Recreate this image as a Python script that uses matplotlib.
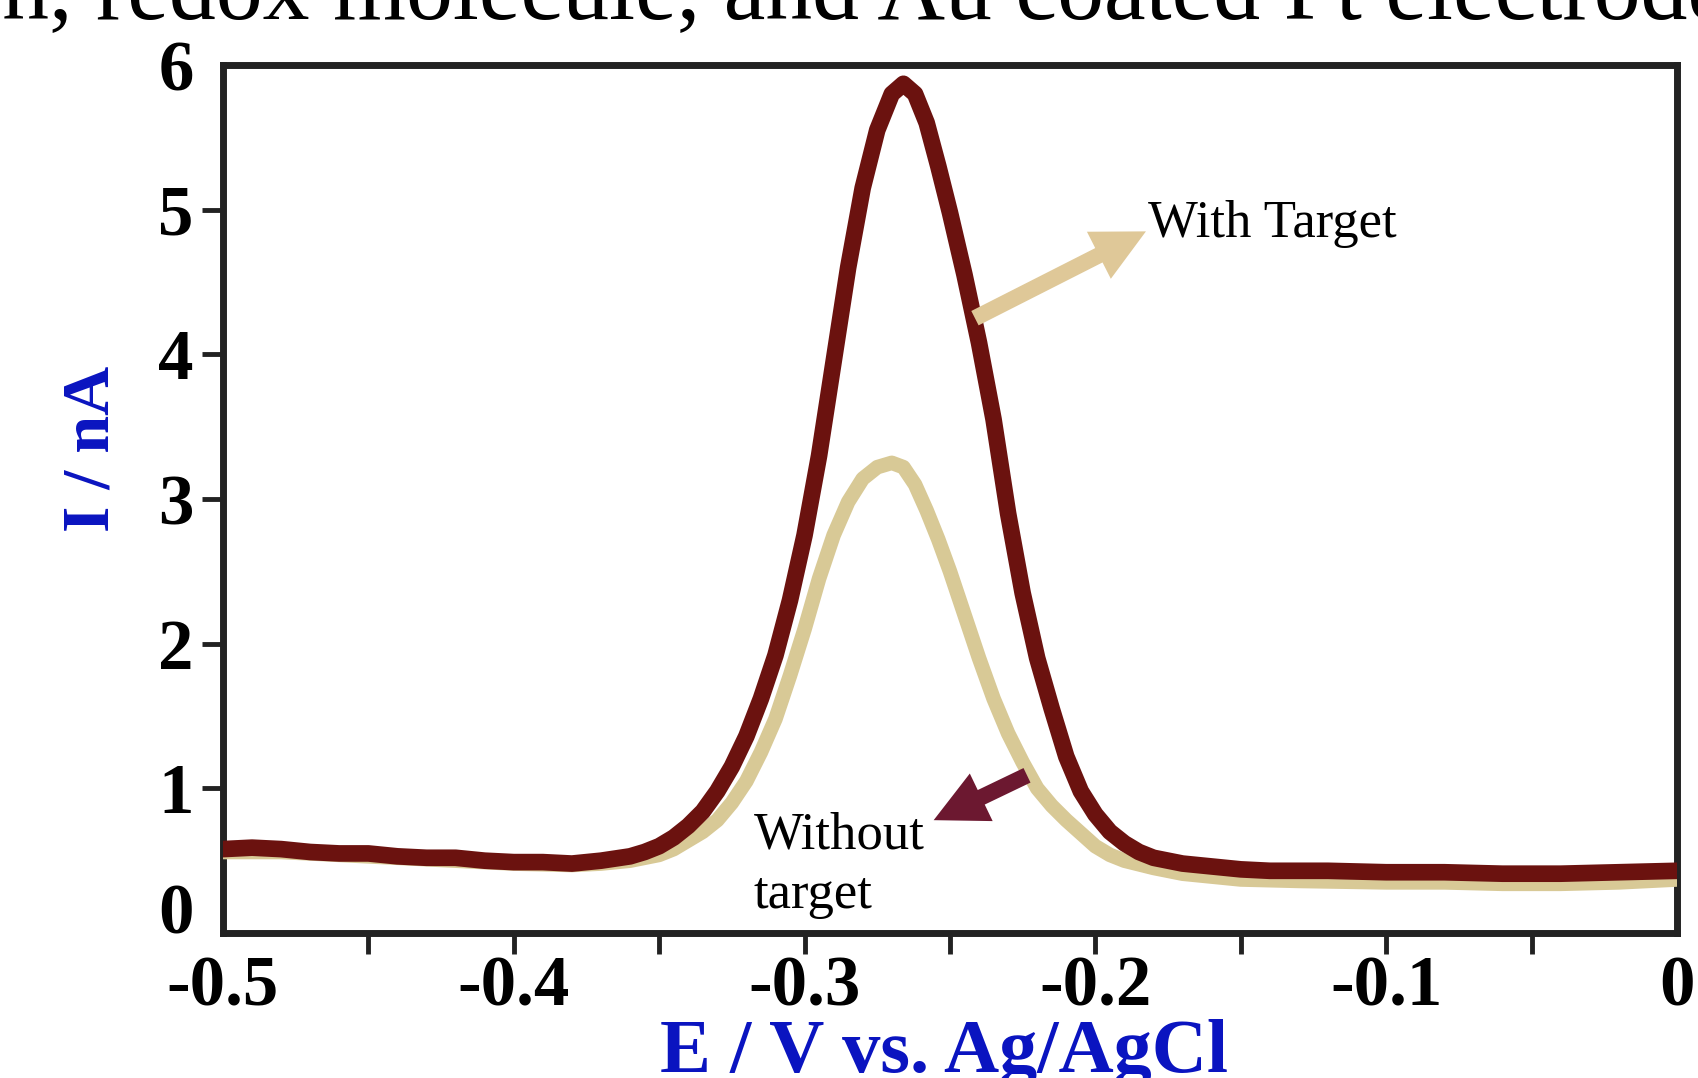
import matplotlib
matplotlib.use("Agg")
import matplotlib.pyplot as plt
from matplotlib.ticker import MultipleLocator

# ---------------- data ----------------
E_with = [-0.500, -0.490, -0.480, -0.470, -0.460, -0.450, -0.440, -0.430, -0.420, -0.410,
          -0.400, -0.390, -0.380, -0.370, -0.360, -0.355, -0.350, -0.345, -0.340, -0.335,
          -0.330, -0.325, -0.320, -0.315, -0.310, -0.305, -0.300, -0.295, -0.290, -0.285,
          -0.280, -0.275, -0.270, -0.266, -0.262, -0.258, -0.254, -0.250, -0.245, -0.240,
          -0.235, -0.230, -0.225, -0.220, -0.215, -0.210, -0.205, -0.200, -0.195, -0.190,
          -0.185, -0.180, -0.170, -0.160, -0.150, -0.140, -0.120, -0.100, -0.080, -0.060,
          -0.040, -0.020, 0.000]
I_with = [0.58, 0.59, 0.58, 0.56, 0.55, 0.55, 0.53, 0.52, 0.52, 0.50,
          0.49, 0.49, 0.48, 0.50, 0.53, 0.56, 0.60, 0.66, 0.74, 0.84,
          0.98, 1.15, 1.36, 1.62, 1.92, 2.30, 2.75, 3.30, 3.95, 4.60,
          5.15, 5.55, 5.80, 5.87, 5.80, 5.60, 5.30, 4.98, 4.55, 4.08,
          3.55, 2.90, 2.35, 1.90, 1.55, 1.22, 0.98, 0.82, 0.70, 0.62,
          0.56, 0.52, 0.48, 0.46, 0.44, 0.43, 0.43, 0.42, 0.42, 0.41,
          0.41, 0.42, 0.43]

E_without = [-0.500, -0.480, -0.460, -0.440, -0.420, -0.400, -0.380, -0.370, -0.360, -0.350,
             -0.345, -0.340, -0.335, -0.330, -0.325, -0.320, -0.315, -0.310, -0.305, -0.300,
             -0.295, -0.290, -0.285, -0.280, -0.275, -0.270, -0.266, -0.262, -0.258, -0.254,
             -0.250, -0.245, -0.240, -0.235, -0.230, -0.225, -0.220, -0.215, -0.210, -0.205,
             -0.200, -0.195, -0.190, -0.180, -0.170, -0.160, -0.150, -0.130, -0.100, -0.080,
             -0.060, -0.040, -0.020, 0.000]
I_without = [0.56, 0.56, 0.54, 0.52, 0.50, 0.48, 0.47, 0.48, 0.50, 0.54,
             0.58, 0.64, 0.70, 0.78, 0.90, 1.05, 1.25, 1.48, 1.78, 2.10,
             2.45, 2.75, 2.98, 3.14, 3.22, 3.25, 3.22, 3.10, 2.92, 2.72,
             2.50, 2.20, 1.90, 1.62, 1.38, 1.18, 1.00, 0.88, 0.78, 0.69,
             0.60, 0.54, 0.50, 0.45, 0.41, 0.39, 0.37, 0.36, 0.35, 0.35,
             0.34, 0.34, 0.35, 0.37]

x_ticks = [-0.5, -0.4, -0.3, -0.2, -0.1, 0]
x_tick_labels = ["-0.5", "-0.4", "-0.3", "-0.2", "-0.1", "0"]
y_ticks = [0, 1, 2, 3, 4, 5, 6]
y_tick_labels = ["0", "1", "2", "3", "4", "5", "6"]

title_prefix = "aptamer detection, "
title_main = "redox molecule, and Au coated Pt electrode"
x_label = "E / V vs. Ag/AgCl"
y_label = "I / nA"
label_with = "With Target"
label_without = "Without\ntarget"

# ---------------- styling ----------------
SERIF = ["Liberation Serif", "DejaVu Serif"]
C_DARK = "#6b120f"
C_TAN = "#d8c996"
C_ARROW_TAN = "#dfc898"
C_ARROW_DARK = "#6c1830"
C_BLUE = "#0a14c0"
C_SPINE = "#222222"

plt.rcParams["font.family"] = SERIF

W, H = 1698, 1078
fig = plt.figure(figsize=(W / 100, H / 100), dpi=100)
ax = fig.add_axes([0.1313, 0.1345, 0.9876 - 0.1313, 0.9397 - 0.1345])

ax.plot(E_without, I_without, color=C_TAN, lw=10.5, solid_capstyle="round",
        solid_joinstyle="round", zorder=3)
ax.plot(E_with, I_with, color=C_DARK, lw=12, solid_capstyle="round",
        solid_joinstyle="round", zorder=4)

ax.set_xlim(-0.5, 0)
ax.set_ylim(0, 6)

ax.set_xticks(x_ticks)
ax.set_xticklabels(x_tick_labels)
ax.xaxis.set_minor_locator(MultipleLocator(0.05))
ax.set_yticks(y_ticks)
ax.set_yticklabels(y_tick_labels)

for s in ax.spines.values():
    s.set_linewidth(5)
    s.set_color(C_SPINE)

ax.tick_params(axis="both", which="both", direction="out", length=15, width=3.5,
               color=C_SPINE)
ax.tick_params(axis="x", which="major", pad=1)
ax.tick_params(axis="y", which="major", pad=6)
for lbl in ax.get_xticklabels() + ax.get_yticklabels():
    lbl.set_fontsize(51)
    lbl.set_fontweight("bold")
    lbl.set_family(SERIF)
for lbl in ax.get_yticklabels():
    lbl.set_verticalalignment("center_baseline")

# hide tick marks that coincide with corners
xt = ax.xaxis.get_major_ticks()
xt[0].tick1line.set_visible(False)
xt[-1].tick1line.set_visible(False)
yt = ax.yaxis.get_major_ticks()
yt[0].tick1line.set_visible(False)
yt[-1].tick1line.set_visible(False)
ax.get_yticklabels()[0].set_verticalalignment("baseline")

ax.set_xlabel(x_label, fontsize=55, fontweight="bold", color=C_BLUE)
ax.xaxis.label.set_verticalalignment("baseline")
ax.xaxis.set_label_coords(0.496, -0.160)
ax.set_ylabel(y_label, fontsize=49, fontweight="bold", color=C_BLUE)
ax.yaxis.set_label_coords(-0.069, 0.558)

# annotations
arrow_style = "simple,head_length=1.9,head_width=1.9,tail_width=0.58"
ax.annotate("", xy=(-0.1826, 4.85), xytext=(-0.2414, 4.25),
            arrowprops=dict(arrowstyle=arrow_style, mutation_scale=20,
                            color=C_ARROW_TAN, lw=0, shrinkA=0, shrinkB=0), zorder=5)
ax.text(-0.1820, 4.90, label_with, fontsize=38, ha="left", va="center", color="black")

ax.annotate("", xy=(-0.2556, 0.78), xytext=(-0.2235, 1.09),
            arrowprops=dict(arrowstyle=arrow_style, mutation_scale=20,
                            color=C_ARROW_DARK, lw=0, shrinkA=0, shrinkB=0), zorder=5)
ax.text(-0.3175, 0.47, label_without, fontsize=38, ha="left", va="center",
        color="black", linespacing=1.3)

# cut-off title at the very top of the figure: size it so that
# "redox molecule," spans the same width as in the reference
renderer = fig.canvas.get_renderer()
probe = fig.text(0, 0, "redox molecule,", fontsize=100)
w100 = probe.get_window_extent(renderer).width
probe.remove()
title_size = 100 * 604 / w100
probe = fig.text(0, 0, title_prefix, fontsize=title_size)
wpre = probe.get_window_extent(renderer).width
probe.remove()
fig.text((96 - wpre) / W, 1 - 19 / H, title_prefix + title_main, fontsize=title_size,
         ha="left", va="baseline", color="black")

fig.savefig("out.png", dpi=100)
